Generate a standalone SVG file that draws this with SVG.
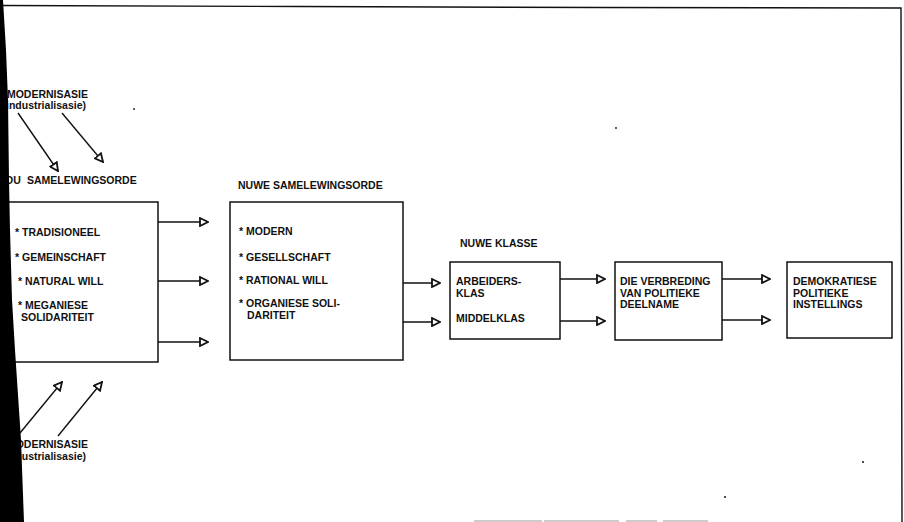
<svg xmlns="http://www.w3.org/2000/svg" width="904" height="522" viewBox="0 0 904 522">
<style>
  text { font-family: "Liberation Sans", Arial, Helvetica, sans-serif; font-size: 10.5px; font-weight: bold; fill: #111; }
  .box { fill: #fff; stroke: #111; stroke-width: 1.5; }
  .con { fill: none; stroke: #111; stroke-width: 1.4; }
  .frame { fill: none; stroke: #111; stroke-width: 1.4; }
</style>
<defs>
  <marker id="oa" viewBox="0 0 10 10" refX="9" refY="5" markerWidth="10" markerHeight="10" markerUnits="userSpaceOnUse" orient="auto">
    <path d="M1,1 L9,5 L1,9 Z" fill="#fff" stroke="#111" stroke-width="1.8" stroke-linejoin="miter"/>
  </marker>
</defs>
<rect width="904" height="522" fill="#fff"/>

<!-- page frame from scan -->
<path class="frame" d="M2,5.5 L300,6.5 L600,7.5 L901,8 L902,522"/>
<path d="M474,521 L708,521" stroke="#999" stroke-width="1" fill="none" stroke-dasharray="68,2,75,7,31,6,45,0"/>

<g id="modernisasie-top">
  <text x="88" y="98" text-anchor="end">MODERNISASIE</text>
  <text x="86" y="109" text-anchor="end">(industrialisasie)</text>
</g>
<g id="modernisasie-bottom">
  <text x="88" y="448" text-anchor="end">MODERNISASIE</text>
  <text x="86" y="460" text-anchor="end">(industrialisasie)</text>
</g>

<g id="ou-samelewingsorde">
  <text x="5" y="184">OU<tspan x="27">SAMELEWINGSORDE</tspan></text>
  <rect class="box" x="4" y="202" width="154" height="160"/>
  <text x="15" y="236">* TRADISIONEEL</text>
  <text x="15" y="261">* GEMEINSCHAFT</text>
  <text x="18" y="285">* NATURAL WILL</text>
  <text x="18" y="309">* MEGANIESE</text>
  <text x="21" y="321">SOLIDARITEIT</text>
</g>

<g id="nuwe-samelewingsorde">
  <text x="238" y="189">NUWE SAMELEWINGSORDE</text>
  <rect class="box" x="230" y="202" width="173" height="158"/>
  <text x="239" y="235">* MODERN</text>
  <text x="239" y="261">* GESELLSCHAFT</text>
  <text x="239" y="284">* RATIONAL WILL</text>
  <text x="239" y="307">* ORGANIESE SOLI-</text>
  <text x="247" y="319">DARITEIT</text>
</g>

<g id="nuwe-klasse">
  <text x="460" y="247">NUWE KLASSE</text>
  <rect class="box" x="450" y="262" width="110" height="77"/>
  <text x="456" y="285">ARBEIDERS-</text>
  <text x="456" y="297">KLAS</text>
  <text x="456" y="322">MIDDELKLAS</text>
</g>

<g id="verbreding">
  <rect class="box" x="615" y="262" width="107" height="78"/>
  <text x="620" y="285">DIE VERBREDING</text>
  <text x="620" y="296.5">VAN POLITIEKE</text>
  <text x="620" y="308">DEELNAME</text>
</g>

<g id="demokratiese-instellings">
  <rect class="box" x="787" y="262" width="105" height="76"/>
  <text x="793" y="285">DEMOKRATIESE</text>
  <text x="793" y="296.5">POLITIEKE</text>
  <text x="793" y="308">INSTELLINGS</text>
</g>

<g id="connectors">
  <path class="con" marker-end="url(#oa)" d="M18,113 L58,171"/>
  <path class="con" marker-end="url(#oa)" d="M62,113 L103,162"/>
  <path class="con" marker-end="url(#oa)" d="M20,433 L62,382"/>
  <path class="con" marker-end="url(#oa)" d="M58,436 L102,382"/>
  <path class="con" marker-end="url(#oa)" d="M158,222 H208"/>
  <path class="con" marker-end="url(#oa)" d="M158,281 H208"/>
  <path class="con" marker-end="url(#oa)" d="M158,342 H208"/>
  <path class="con" marker-end="url(#oa)" d="M403,283 H440"/>
  <path class="con" marker-end="url(#oa)" d="M403,322 H440"/>
  <path class="con" marker-end="url(#oa)" d="M560,279 H605"/>
  <path class="con" marker-end="url(#oa)" d="M560,321 H605"/>
  <path class="con" marker-end="url(#oa)" d="M722,279 H770"/>
  <path class="con" marker-end="url(#oa)" d="M722,320 H770"/>
</g>

<!-- scan specks -->
<circle cx="134" cy="109" r="0.9" fill="#111"/>
<circle cx="616" cy="128" r="0.9" fill="#111"/>
<circle cx="863" cy="462" r="1" fill="#111"/>
<circle cx="725" cy="497" r="1" fill="#111"/>

<!-- black scanner edge on the left -->
<polygon points="0,0 3,0 6,50 8,100 9,180 10,230 12,300 15,350 17,380 21,440 24,522 0,522" fill="#000"/>
</svg>
